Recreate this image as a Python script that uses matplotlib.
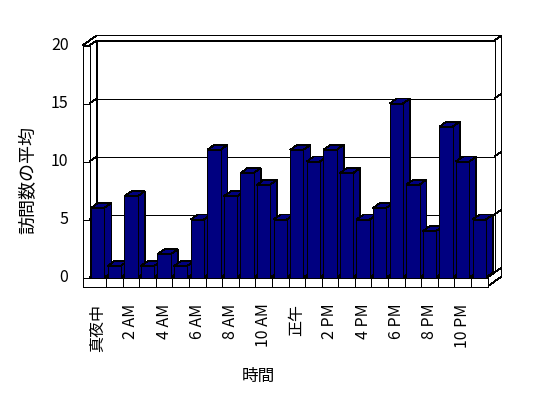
import matplotlib
matplotlib.use("Agg")
import matplotlib.pyplot as plt
from matplotlib.patches import Polygon

plt.rcParams['font.family'] = ['Noto Sans CJK JP', 'DejaVu Sans']

# ---- data ----
hours = ['真夜中', '1 AM', '2 AM', '3 AM', '4 AM', '5 AM', '6 AM', '7 AM', '8 AM', '9 AM',
         '10 AM', '11 AM', '正午', '1 PM', '2 PM', '3 PM', '4 PM', '5 PM', '6 PM', '7 PM',
         '8 PM', '9 PM', '10 PM', '11 PM']
visits = [6, 1, 7, 1, 2, 1, 5, 11, 7, 9, 8, 5, 11, 10, 11, 9, 5, 6, 15, 8, 4, 13, 10, 5]
y_ticks = [0, 5, 10, 15, 20]
x_title = '時間'
y_title = '訪問数の平均'

# ---- styling ----
W_PX, H_PX = 548, 398
BAR = '#000080'
EDGE = 'black'
LW = 0.6
AA = False

fig = plt.figure(figsize=(W_PX / 100, H_PX / 100), dpi=100)
fig.patch.set_facecolor('white')

# front plane of the plot (pixels from top-left)
left_px, right_px = 89.5, 487.5
bottom_px, top_px = 277.5, 45.5
ax = fig.add_axes([left_px / W_PX, 1 - bottom_px / H_PX,
                   (right_px - left_px) / W_PX, (bottom_px - top_px) / H_PX])
n = len(visits)
ymax = y_ticks[-1]
ax.set_xlim(-0.5, n - 0.5)
ax.set_ylim(0, ymax)
ax.axis('off')

px_x = (right_px - left_px) / n          # pixels per category
px_y = (bottom_px - top_px) / ymax       # pixels per unit
DX = 7 / px_x        # depth offset (x) in data units
DY = 5 / px_y        # depth offset (y) in data units
WALL = 7 / px_x      # left wall thickness
FLOOR = 9 / px_y     # floor thickness
x0, x1 = -0.5, n - 0.5


def poly(pts, z, fc='white'):
    p = Polygon(pts, closed=True, facecolor=fc, edgecolor=EDGE, lw=LW,
                zorder=z, clip_on=False, joinstyle='miter', antialiased=AA)
    ax.add_patch(p)


def line(xs, ys, z):
    ax.plot(xs, ys, color=EDGE, lw=LW, zorder=z, clip_on=False,
            solid_capstyle='butt', antialiased=AA)


# back wall + left wall top (combined)
poly([(x0 - WALL, ymax), (x0, ymax), (x0 + DX, ymax + DY), (x1 + DX, ymax + DY),
      (x1 + 2 * DX, ymax + 2 * DY), (x0 - WALL + 2 * DX, ymax + 2 * DY)], 1)
# back wall right face
poly([(x1 + DX, DY), (x1 + DX, ymax + DY), (x1 + 2 * DX, ymax + 2 * DY),
      (x1 + 2 * DX, 2 * DY)], 1)
# back wall inner face
poly([(x0 + DX, DY), (x1 + DX, DY), (x1 + DX, ymax + DY), (x0 + DX, ymax + DY)], 1)
# left wall inner face
poly([(x0, 0), (x0 + DX, DY), (x0 + DX, ymax + DY), (x0, ymax)], 1)
# left wall front face
poly([(x0 - WALL, 0), (x0, 0), (x0, ymax), (x0 - WALL, ymax)], 1)

# gridlines
for v in y_ticks[1:-1]:
    line([x0 + DX, x1 + DX], [v + DY, v + DY], 2)
    line([x1 + DX, x1 + 2 * DX], [v + DY, v + 2 * DY], 2)
    line([x0 - WALL, x0], [v, v], 2)
    line([x0, x0 + DX], [v, v + DY], 2)

# floor
poly([(x0, 0), (x1, 0), (x1 + DX, DY), (x0 + DX, DY)], 3)
poly([(x1, 0), (x1 + 2 * DX, 2 * DY), (x1 + 2 * DX, 2 * DY - FLOOR), (x1, -FLOOR)], 3)
poly([(x0 - WALL, -FLOOR), (x1, -FLOOR), (x1, 0), (x0 - WALL, 0)], 3)
for k in range(n - 1):
    line([k + 0.5, k + 0.5], [-FLOOR, 0], 3)

# bars
bw = 0.8
xs = list(range(n))
bars = ax.bar(xs, visits, width=bw, color=BAR, edgecolor=EDGE, lw=LW)
for i, (b, v) in enumerate(zip(bars, visits)):
    z = 10 + i
    b.set_zorder(z + 0.5)
    b.set_clip_on(False)
    b.set_antialiased(AA)
    xl, xr = i - bw / 2, i + bw / 2
    poly([(xr, 0), (xr + DX, DY), (xr + DX, v + DY), (xr, v)], z, BAR)
    poly([(xl, v), (xr, v), (xr + DX, v + DY), (xl + DX, v + DY)], z, BAR)

# y tick labels
for v in y_ticks:
    ax.annotate(str(v), xy=(x0 - WALL, v), xytext=(-14, 0), textcoords='offset pixels',
                ha='right', va='center', fontsize=11.5, annotation_clip=False)

# x tick labels (every other hour)
for i in range(0, n, 2):
    ax.annotate(hours[i], xy=(i, -FLOOR), xytext=(0, -17), textcoords='offset pixels',
                ha='center', va='top', rotation=90, fontsize=11.5,
                annotation_clip=False)

fig.text(28 / W_PX, 1 - 180 / H_PX, y_title, rotation=90, ha='center', va='center',
         fontsize=13)
fig.text(258 / W_PX, 1 - 376 / H_PX, x_title, ha='center', va='center', fontsize=12)

fig.savefig('out.png', dpi=100, facecolor='white')
